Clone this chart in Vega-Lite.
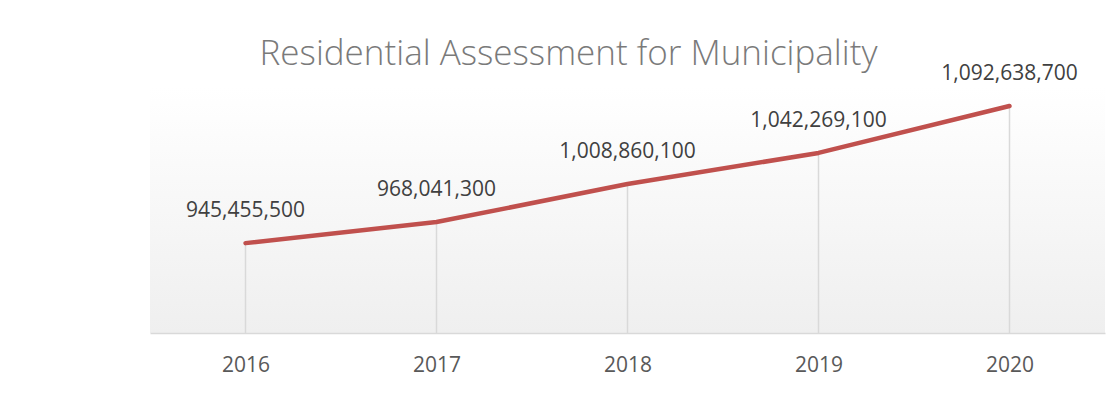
{
  "$schema": "https://vega.github.io/schema/vega-lite/v6.json",
  "autosize": "none",
  "width": 955,
  "height": 246,
  "padding": {"left": 150, "top": 87, "right": 11, "bottom": 69},
  "background": "white",
  "title": {
    "text": "Residential Assessment for Municipality",
    "font": "Open Sans",
    "fontSize": 35,
    "fontWeight": 300,
    "color": "#7a7a7a",
    "anchor": "middle",
    "baseline": "alphabetic",
    "offset": 21,
    "dx": -59,
    "dy": 58
  },
  "config": {
    "view": {
      "stroke": null,
      "fill": {
        "gradient": "linear",
        "x1": 0, "y1": 0, "x2": 0, "y2": 1,
        "stops": [
          {"offset": 0, "color": "#ffffff"},
          {"offset": 1, "color": "#efefef"}
        ]
      }
    }
  },
  "data": {
    "values": [
      {"year": "2016", "value": 945455500},
      {"year": "2017", "value": 968041300},
      {"year": "2018", "value": 1008860100},
      {"year": "2019", "value": 1042269100},
      {"year": "2020", "value": 1092638700}
    ]
  },
  "encoding": {
    "x": {
      "field": "year",
      "type": "ordinal",
      "scale": {"type": "point", "padding": 0.5},
      "axis": {
        "title": null,
        "labelAngle": 0,
        "domainColor": "#d9d9d9",
        "domainWidth": 1.5,
        "ticks": false,
        "tickSize": 0,
        "grid": false,
        "labelFont": "Open Sans",
        "labelFontSize": 21,
        "labelColor": "#595959",
        "labelBaseline": "middle",
        "labelPadding": 32
      }
    },
    "y": {
      "field": "value",
      "type": "quantitative",
      "scale": {"domain": [849000000, 1113000000], "zero": false, "nice": false},
      "axis": null
    }
  },
  "layer": [
    {
      "mark": {"type": "rule", "color": "#d9d9d9", "strokeWidth": 1.5},
      "encoding": {
        "y2": {"datum": 849000000}
      }
    },
    {
      "mark": {"type": "line", "color": "#c0504d", "strokeWidth": 4.5, "strokeCap": "round", "strokeJoin": "round"}
    },
    {
      "mark": {"type": "text", "font": "Open Sans", "fontSize": 21, "color": "#404040", "baseline": "middle", "align": "center", "dy": -32},
      "encoding": {
        "text": {"field": "value", "type": "quantitative", "format": ","}
      }
    }
  ]
}
